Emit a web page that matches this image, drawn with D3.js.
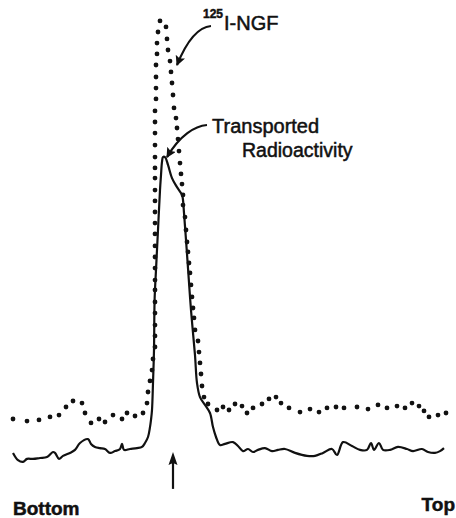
<!DOCTYPE html>
<html>
<head>
<meta charset="utf-8">
<script src="https://cdn.jsdelivr.net/npm/d3@7"></script>
<style>
  html, body { margin: 0; padding: 0; background: #fff; }
  svg { display: block; }
  .lbl { font-family: "Liberation Sans", Arial, sans-serif; fill: #111; stroke: #111; stroke-width: 0.5; }
</style>
</head>
<body>
<div id="chart"></div>
<script>
// position along the gradient (0 = bottom) and relative radioactivity
const ngfX = [0, 3.5, 6.5, 9.25, 11.5, 13.25, 15, 17.25, 18, 19.5, 21.5, 23, 25, 27.25, 28.5, 30.5, 32.5, 33.5, 33.75, 34.25,
  34.75, 35, 35.5, 35.5, 35.5, 35.5, 35.5, 35.5, 35.5, 35.5, 35.5, 35.5, 35.5, 35.5, 35.5, 35.5, 35.5, 35.5, 35.5, 35.5,
  35.5, 35.5, 35.5, 35.5, 35.75, 35.75, 35.75, 35.75, 36, 36, 36.25, 36.75, 38.25, 38.5, 38.75, 39.25, 39.5, 39.75, 40, 40.25,
  40.75, 41, 41.25, 41.5, 41.75, 42, 42.25, 42.5, 42.5, 43, 43.25, 43.5, 43.75, 44, 44.25, 44.5, 44.75, 45, 45.25, 45.5,
  46.25, 46.5, 46.75, 47, 47.25, 47.75, 48.75, 51, 52.5, 54, 55.5, 57.25, 58.5, 60, 62.25, 64, 65.75, 67, 69, 71.75,
  74.25, 76.5, 78.5, 80.75, 82.75, 86, 88.75, 91.25, 93.5, 96, 98, 99.75, 101.5, 102.75, 104, 106.25, 108.25];
const ngfY = [17, 16.3, 16.7, 17.7, 18.3, 21, 23, 22.3, 19, 15.7, 17, 16, 18.3, 17, 19, 18, 19, 22.3, 26, 29.7,
  33.3, 37, 41, 44.7, 48.3, 52.3, 56, 60, 63.3, 67.3, 71, 74.7, 78.7, 82.3, 86, 89.7, 93.3, 97.3, 100.7, 104.3,
  108.3, 112.3, 116, 119.7, 123.7, 127.3, 131, 135, 138.7, 142.3, 146, 149.7, 147.7, 143.7, 140, 136.3, 132.7, 129, 125, 120.7,
  117.3, 114, 110.3, 106.3, 102.3, 98.7, 95.3, 91.7, 88.3, 84.3, 80, 76, 72.7, 69, 65.7, 61.7, 57.7, 54, 50.7, 46.7,
  43, 39.3, 35.7, 32, 28, 24.3, 22, 20, 21, 20, 22, 21.3, 19, 20.7, 22, 23.7, 24.3, 22.3, 20.7, 19.3,
  20.3, 19.3, 20.7, 21, 20.7, 21, 20.3, 21.7, 20.7, 21.3, 20.7, 22.3, 21.3, 19.7, 17.7, 18.3, 19];

const transX = [0, 1.25, 2.5, 3.5, 5, 6.75, 8.5, 10, 10.5, 11.5, 12.5, 14.25, 15.5, 16.75, 18.75, 19.5, 20.5, 21.75, 23, 24.25,
  25.5, 26.75, 27.25, 27.75, 29.25, 31, 32.25, 33, 33.75, 34.25, 34.5, 34.75, 35, 35.25, 35.4, 35.75, 36.25, 36.75, 37, 37.25,
  37.5, 38, 38.75, 39.75, 41, 42.25, 42.5, 42.75, 43.25, 43.75, 44.5, 45.5, 46, 46.75, 48, 49.25, 50, 50.75, 51.75, 53,
  55, 56.25, 57.5, 58.75, 60, 61.25, 63, 64.75, 66.25, 68, 70.5, 73.5, 75.5, 77.5, 79.75, 81, 82.5, 84.75, 86.75, 88.5,
  89.5, 90.25, 91.5, 92.5, 94.25, 96.25, 98.5, 100, 102.25, 103.75, 105.5, 106.75, 107.75];
const transY = [5.7, 3.3, 2.7, 3.7, 3.7, 4, 4.3, 6, 5.7, 3.7, 4.7, 5.7, 6.7, 9, 10.3, 8.7, 7.7, 7.3, 7, 5.7,
  6.3, 7, 8.7, 6.7, 7, 7.3, 7.7, 9, 11, 14.3, 16.7, 20, 29, 40, 56.7, 66.7, 80, 93.3, 98.3, 102.7,
  104.3, 104.3, 101.7, 97.3, 94.3, 91.7, 90, 85.7, 76.7, 67.3, 53.3, 38.3, 29, 24.3, 21.7, 19, 14.3, 11, 8.3, 8.7,
  9.3, 8, 6.3, 7, 6, 6.7, 7.3, 6.3, 6.7, 7, 5.7, 4.7, 4.7, 5.7, 7, 5, 9.3, 8, 6.7, 6.7,
  9, 6.7, 9, 6.7, 6.7, 7.7, 7, 6.3, 7, 6, 5.7, 6.3, 7.3];

const markerPos = 40;           // position of the arrow under the peak
const markerSpan = [-6.3, 6];

const width = 456;
const height = 518;

const svg = d3.select("#chart").append("svg")
  .attr("width", width).attr("height", height);

const x = d3.scaleLinear().domain([0, 108]).range([13, 445]);
const y = d3.scaleLinear().domain([0, 150]).range([470, 20]);

const defs = svg.append("defs");
defs.append("marker")
  .attr("id", "head").attr("viewBox", "0 0 10 10")
  .attr("refX", 9).attr("refY", 5)
  .attr("markerWidth", 10).attr("markerHeight", 10)
  .attr("markerUnits", "userSpaceOnUse")
  .attr("orient", "auto")
  .append("path").attr("d", "M0,0 L10,5 L0,10 L2,5 Z").attr("fill", "#111");

// transported radioactivity (solid)
const trans = transX.map((d, i) => [d, transY[i]]);
svg.append("path")
  .datum(trans)
  .attr("fill", "none").attr("stroke", "#111").attr("stroke-width", 2.2)
  .attr("stroke-linejoin", "round")
  .attr("d", d3.line().x(d => x(d[0])).y(d => y(d[1])).curve(d3.curveCatmullRom.alpha(0.5)));

// 125I-NGF (dotted)
const ngf = ngfX.map((d, i) => [d, ngfY[i]]);
svg.append("g").selectAll("circle")
  .data(ngf).join("circle")
  .attr("cx", d => x(d[0])).attr("cy", d => y(d[1]))
  .attr("r", 2.4).attr("fill", "#111");

// arrow under the peak
svg.append("line")
  .attr("x1", x(markerPos)).attr("x2", x(markerPos))
  .attr("y1", y(markerSpan[0])).attr("y2", y(markerSpan[1]) + 10)
  .attr("stroke", "#111").attr("stroke-width", 2.2);
svg.append("path")
  .attr("d", `M${x(markerPos)},${y(markerSpan[1])} l-4.5,13 l4.5,-2 l4.5,2 Z`)
  .attr("fill", "#111");

// labels
svg.append("text").attr("class", "lbl")
  .attr("x", 13).attr("y", 515)
  .attr("font-size", 19).attr("font-weight", "bold")
  .text("Bottom");
svg.append("text").attr("class", "lbl")
  .attr("x", 455).attr("y", 511).attr("text-anchor", "end")
  .attr("font-size", 19).attr("font-weight", "bold")
  .text("Top");

const ngfLabel = svg.append("text").attr("class", "lbl").attr("x", 203).attr("y", 30);
ngfLabel.append("tspan").attr("font-size", 12).attr("font-weight", "bold").attr("dy", -12).text("125");
ngfLabel.append("tspan").attr("font-size", 20).attr("dy", 12).attr("dx", 1).text("I-NGF");

svg.append("text").attr("class", "lbl")
  .attr("x", 212).attr("y", 133).attr("font-size", 20)
  .text("Transported");
svg.append("text").attr("class", "lbl")
  .attr("x", 242).attr("y", 157).attr("font-size", 19.5)
  .text("Radioactivity");

// leader lines
const leaders = [
  { from: [211, 26], c1: [199, 27], c2: [188, 38], to: [41, 135] },
  { from: [207, 125], c1: [195, 126], c2: [180, 135], to: [38.5, 104.3] }
];
svg.append("g").selectAll("path")
  .data(leaders).join("path")
  .attr("fill", "none").attr("stroke", "#111").attr("stroke-width", 2.2)
  .attr("marker-end", "url(#head)")
  .attr("d", d => `M${d.from} C${d.c1} ${d.c2} ${x(d.to[0])},${y(d.to[1])}`);
</script>
</body>
</html>
